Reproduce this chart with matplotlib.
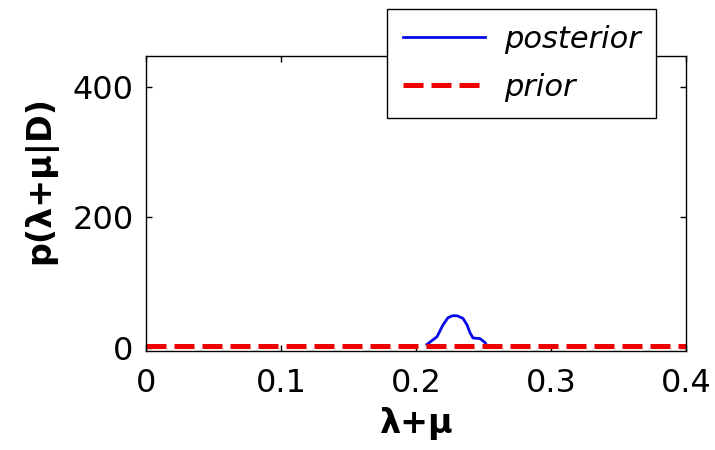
import matplotlib
matplotlib.use("Agg")
import matplotlib.pyplot as plt

# data
post_x = [0.2081, 0.2156, 0.2200, 0.2237, 0.2270, 0.2304, 0.2348, 0.2378, 0.2400, 0.2422, 0.2474, 0.2511, 0.2533]
post_y = [5, 17, 35, 46, 49, 49, 45, 35, 23, 15, 14, 8, 1]
prior_x = [0.0, 0.4]
prior_y = [2.5, 2.5]
xticks = [0, 0.1, 0.2, 0.3, 0.4]
xticklabels = ["0", "0.1", "0.2", "0.3", "0.4"]
yticks = [0, 200, 400]

plt.rcParams['font.family'] = ['DejaVu Sans']

fig = plt.figure(figsize=(7.15, 4.5), dpi=100)
ax = fig.add_axes([146/715, 1-351/450, (686-146)/715, (351-56)/450])

ax.plot(post_x, post_y, color='#0a0ae6', lw=2.0, label='posterior')
ax.plot(prior_x, prior_y, color='#ee0000', lw=3.6, dashes=(4.0, 1.6), label='prior')

ax.set_xlim(0, 0.4)
ax.set_ylim(-5, 447)
ax.set_xticks(xticks)
ax.set_xticklabels(xticklabels)
ax.set_yticks(yticks)
ax.tick_params(direction='in', length=4, width=1, top=True, right=True,
               labelsize=23)
ax.tick_params(axis='x', pad=12)
ax.tick_params(axis='y', pad=9)
for s in ax.spines.values():
    s.set_linewidth(1.0)

ax.set_xlabel('λ+μ', fontsize=24, fontweight='bold', labelpad=6)
ax.set_ylabel('p(λ+μ|D)', fontsize=24, fontweight='bold')
ax.yaxis.set_label_coords(-0.165, 0.58)

leg = fig.legend(loc='upper left', bbox_to_anchor=(387/715, 1-9/450),
                 bbox_transform=fig.transFigure, borderaxespad=0,
                 fancybox=False, edgecolor='black', framealpha=1,
                 prop={'style': 'italic', 'size': 22},
                 handlelength=2.7, handletextpad=0.6, borderpad=0.52,
                 labelspacing=0.62)
leg.get_frame().set_linewidth(1.0)

fig.savefig('out.png', dpi=100)
